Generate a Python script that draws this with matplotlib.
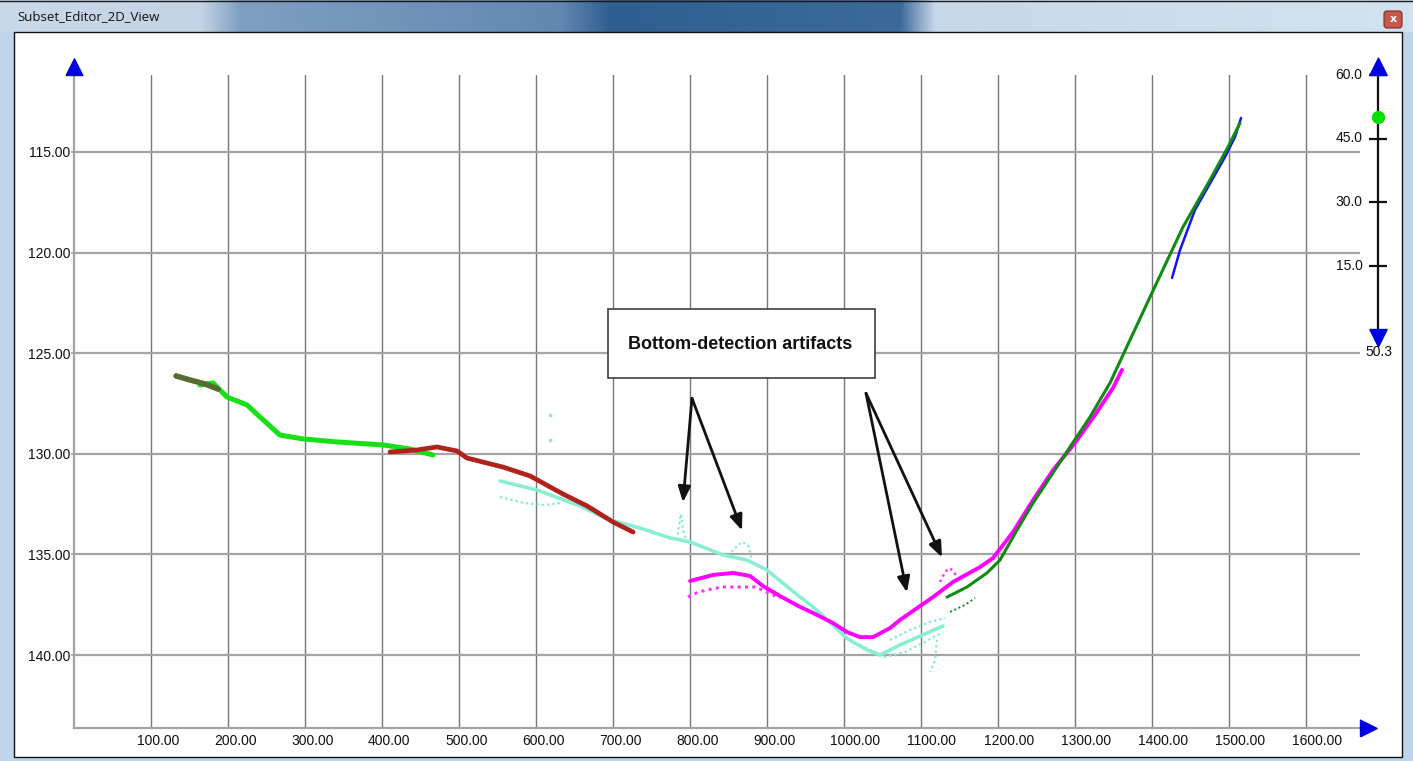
import numpy as np
import matplotlib
matplotlib.use("Agg")
import matplotlib.pyplot as plt
from matplotlib.patches import Rectangle, FancyBboxPatch
from matplotlib.transforms import ScaledTranslation

# %% veriler (mesafe, derinlik)
olive_x = [132.5, 150.6, 170.1, 187.0]
olive_y = [126.13, 126.33, 126.53, 126.78]

green_x = [163.6, 180.5, 198.7, 224.7, 241.5, 267.5, 297.4, 341.5, 401.3, 436.3, 466.2]
green_y = [126.58, 126.48, 127.18, 127.57, 128.17, 129.07, 129.26, 129.41, 129.56, 129.76, 130.06]

red_x = [410.4, 445.4, 471.4, 497.4, 510.3, 531.1, 557.1, 592.2, 635.0, 666.2, 700.0, 726.0]
red_y = [129.91, 129.81, 129.66, 129.86, 130.21, 130.41, 130.66, 131.10, 132.00, 132.59, 133.39, 133.89]

cyan_x = [553.2, 601.3, 657.1, 692.2, 735.0, 774.0, 800.0, 842.8, 873.9, 899.9, 942.8,
          959.7, 985.6, 1003.8, 1029.8, 1046.7, 1072.6, 1098.6, 1128.5]
cyan_y = [131.35, 131.80, 132.59, 133.24, 133.69, 134.18, 134.38, 135.03, 135.28, 135.78, 137.12,
          137.61, 138.51, 139.18, 139.75, 140.00, 139.50, 139.06, 138.56]
# cyan dağınık artefaktlar
cyan_low_x = [553.2, 585.7, 611.7, 631.1]
cyan_low_y = [132.15, 132.45, 132.55, 132.45]
spike1_x = [783.1, 785.7, 788.3, 790.9, 794.8]
spike1_y = [134.28, 133.54, 133.00, 133.79, 134.28]
spike2_x = [849.3, 858.4, 867.5, 875.3, 880.5]
spike2_y = [135.08, 134.68, 134.38, 134.53, 135.28]
trough_a_x = [1020.7, 1053.2, 1079.1, 1105.1, 1128.5]
trough_a_y = [139.50, 140.10, 139.85, 139.35, 138.86]
trough_b_x = [1059.7, 1085.6, 1111.6, 1131.1]
trough_b_y = [139.25, 138.76, 138.36, 138.16]
tail_x = [1120.7, 1118.1, 1111.6]
tail_y = [139.25, 140.25, 140.84]
lone_x = [618.1, 618.1]
lone_y = [128.07, 129.31]

magenta_x = [800.0, 829.8, 855.8, 877.8, 894.7, 916.8, 942.8, 959.7, 985.6, 1003.8, 1020.7,
             1037.6, 1059.7, 1072.6, 1089.5, 1115.5, 1141.5, 1176.5, 1193.4, 1219.4, 1245.4,
             1271.3, 1299.9, 1325.9, 1349.2, 1360.9]
magenta_y = [136.32, 136.02, 135.92, 136.07, 136.57, 137.07, 137.61, 137.91, 138.41, 138.86, 139.11,
             139.11, 138.66, 138.26, 137.81, 137.12, 136.37, 135.63, 135.18, 133.89, 132.30,
             130.81, 129.46, 128.07, 126.73, 125.83]
mag_low_x = [797.3, 810.9, 840.8, 884.9, 916.8]
mag_low_y = [137.12, 136.87, 136.62, 136.62, 137.17]
mag_spike_x = [1124.6, 1131.1, 1137.6, 1145.4]
mag_spike_y = [136.37, 135.87, 135.68, 136.02]

dgreen_x = [1133.7, 1159.7, 1185.6, 1202.5, 1224.6, 1245.4, 1271.3, 1293.4, 1319.4, 1345.3,
            1397.3, 1440.1, 1475.2, 1498.6, 1514.2]
dgreen_y = [137.12, 136.62, 135.92, 135.28, 133.79, 132.45, 130.95, 129.66, 128.17, 126.48,
            122.21, 118.73, 116.39, 114.75, 113.56]
dgreen_low_x = [1137.6, 1157.1, 1170.1]
dgreen_low_y = [137.86, 137.51, 137.17]

blue_x = [1425.9, 1436.3, 1455.7, 1477.8, 1494.7, 1507.7, 1515.5]
blue_y = [121.26, 119.87, 117.88, 116.39, 115.25, 114.25, 113.31]

x_ticks = list(range(100, 1700, 100))
y_ticks = [115, 120, 125, 130, 135, 140]

scale_ticks = [15, 30, 45, 60]
scale_value = 50
scale_min_label = "50.3"

note_text = "Bottom-detection artifacts"
arrow_starts = [(802.5, 127.24), (802.5, 127.24), (1028.5, 126.99), (1028.5, 126.99)]
arrow_tips = [(790.8, 132.41), (867.5, 133.81), (1081.7, 136.89), (1127.2, 135.15)]

W, H = 1413, 761
fig = plt.figure(figsize=(W / 100, H / 100), dpi=100)

# %% pencere çerçevesi
bg = fig.add_axes([0, 0, 1, 1], zorder=0)
bg.set_xlim(0, W)
bg.set_ylim(H, 0)
bg.axis("off")
bg.add_patch(Rectangle((0, 0), W, H, color="#bfd5ec"))
stops_px = [0, 200, 240, 560, 610, 900, 935, W]
stops_c = ["#c9d9ea", "#c4d4e6", "#7f9fc2", "#6288b2", "#2f5e90", "#3b6a9b", "#c7d8ea", "#d3e2f0"]
rgb = np.array([matplotlib.colors.to_rgb(c) for c in stops_c])
xs = np.arange(W)
grad = np.stack([np.interp(xs, stops_px, rgb[:, k]) for k in range(3)], axis=-1)
bg.imshow(grad[None, :, :], extent=(0, W, 32, 0), aspect="auto", zorder=1)
bg.plot([0, W], [0.5, 0.5], color="#1a1a1a", lw=1, zorder=2)
bg.add_patch(Rectangle((14, 32), 1388, 725, facecolor="#fefefe", edgecolor="#111111", lw=1, zorder=2))
bg.text(17, 17, "Subset_Editor_2D_View", fontsize=9.5, family="Open Sans", va="center",
        ha="left", color="#111111", zorder=3)
bg.add_patch(FancyBboxPatch((1384, 11), 18, 17, boxstyle="round,pad=0,rounding_size=3",
                            facecolor="#c9574c", edgecolor="#7a2a22", lw=0.8, zorder=3))
bg.text(1393, 19.5, "x", color="white", fontsize=8, fontweight="bold", ha="center",
        va="center", zorder=4)

# %% ana grafik
ax = fig.add_axes([74 / W, (H - 728) / H, (1360 - 74) / W, (728 - 75) / H], zorder=1)
ax.set_facecolor("#fefefe")
ax.set_xlim(0, 1670)
ax.set_ylim(143.628, 111.173)

ax.set_xticks(x_ticks)
ax.set_xticklabels([])
ax.set_yticks(y_ticks)
ax.set_yticklabels(["%.2f" % v for v in y_ticks], family="Liberation Sans", fontsize=10,
                   color="#111111")
ax.tick_params(axis="x", length=0)
ax.tick_params(axis="y", length=2.2, width=1.2, color="#a0a0a0", pad=0.3)
ax.xaxis.grid(True, color="#777777", lw=1.0)
ax.yaxis.grid(True, color="#a4a4a4", lw=1.6)
ax.set_axisbelow(True)
for s in ["top", "right"]:
    ax.spines[s].set_visible(False)
for s in ["left", "bottom"]:
    ax.spines[s].set_color("#a4a4a4")
    ax.spines[s].set_linewidth(1.6)

off = ScaledTranslation(-14 / 100, -6 / 100, fig.dpi_scale_trans)
for v in x_ticks:
    ax.text(v, 0, "%.2f" % v, transform=ax.get_xaxis_transform() + off, ha="left", va="top",
            family="Liberation Sans", fontsize=10, color="#111111")

# eksen okları
up_tri = [(-0.5, 0), (0.5, 0), (0, 1), (-0.5, 0)]
down_tri = [(-0.5, 0), (0.5, 0), (0, -1), (-0.5, 0)]
right_tri = [(0, -0.5), (0, 0.5), (1, 0), (0, -0.5)]
ax.plot([0], [111.173], marker=up_tri, ms=24, color="#0000e0", clip_on=False, zorder=5)
ax.plot([1670], [143.628], marker=right_tri, ms=24, color="#0000e0", clip_on=False, zorder=5)

# dağınık noktalar (noktalı çizgi)
dot = (0, (1, 1.4))
for xx, yy in [(cyan_low_x, cyan_low_y), (spike1_x, spike1_y), (spike2_x, spike2_y),
               (trough_a_x, trough_a_y), (trough_b_x, trough_b_y), (tail_x, tail_y)]:
    ax.plot(xx, yy, color="#7eedd0", lw=1.6, ls=dot, zorder=3)
ax.plot(lone_x, lone_y, ls="none", marker="s", ms=1.3, color="#7eedd0", zorder=3)

ax.plot(cyan_x, cyan_y, color="#88efd4", lw=2.6, solid_capstyle="round", zorder=3)
ax.plot(olive_x, olive_y, color="#556b2f", lw=4.0, solid_capstyle="round", zorder=4)
ax.plot(green_x, green_y, color="#16e016", lw=3.6, solid_capstyle="round", zorder=3)
ax.plot(red_x, red_y, color="#b0221e", lw=3.4, solid_capstyle="round", zorder=4)

ax.plot(mag_low_x, mag_low_y, color="#ff33ff", lw=2.2, ls=dot, zorder=4)
ax.plot(mag_spike_x, mag_spike_y, color="#ff33ff", lw=1.8, ls=dot, zorder=4)
ax.plot(magenta_x, magenta_y, color="#ff00ff", lw=2.8, solid_capstyle="round", zorder=4)

ax.plot(dgreen_low_x, dgreen_low_y, color="#118811", lw=1.4, ls=dot, zorder=4)
ax.plot(dgreen_x, dgreen_y, color="#118a11", lw=2.2, solid_capstyle="round", zorder=5)
ax.plot(blue_x, blue_y, color="#1414f0", lw=1.8, solid_capstyle="round", zorder=4)

# açıklama kutusu ve oklar
ax.add_patch(Rectangle((693.4, 122.81), 346.8, 3.43, facecolor="white", edgecolor="#404040",
                       lw=1.2, zorder=6))
ax.text(865.5, 124.55, note_text, ha="center", va="center", fontsize=13, fontweight="bold",
        family="Liberation Sans", color="#111111", zorder=7)
for st, tp in zip(arrow_starts, arrow_tips):
    ax.annotate("", xy=tp, xytext=st, zorder=7,
                arrowprops=dict(arrowstyle="-|>,head_length=0.55,head_width=0.22",
                                mutation_scale=17, lw=2.0, color="#111111",
                                shrinkA=0, shrinkB=0))

# %% sağdaki renk ölçeği
ax2 = fig.add_axes([1360 / W, (H - 329) / H, 35 / W, 254 / H], zorder=2)
ax2.set_xlim(-1, 1)
ax2.set_ylim(0, 60)
ax2.axis("off")
ax2.plot([0, 0], [0, 60], color="#111111", lw=1.6, clip_on=False)
ax2.plot([0] * len(scale_ticks), scale_ticks, ls="none", marker="_", ms=13, mew=1.6,
         color="#111111", clip_on=False)
for v in scale_ticks:
    ax2.text(-0.85, v, "%.1f" % v, ha="right", va="center", family="Liberation Sans",
             fontsize=10, color="#111111")
ax2.plot([0], [60], marker=up_tri, ms=25, color="#0000e0", clip_on=False)
ax2.plot([0], [0], marker=down_tri, ms=25, color="#0000e0", clip_on=False)
ax2.plot([0], [scale_value], marker="o", ms=8.5, color="#00e000", clip_on=False)
ax2.annotate(scale_min_label, xy=(0, 0), xytext=(1.2, -16.5), textcoords="offset points",
             ha="center", va="center", family="Liberation Sans", fontsize=10, color="#111111")

fig.savefig("out.png", dpi=100)
